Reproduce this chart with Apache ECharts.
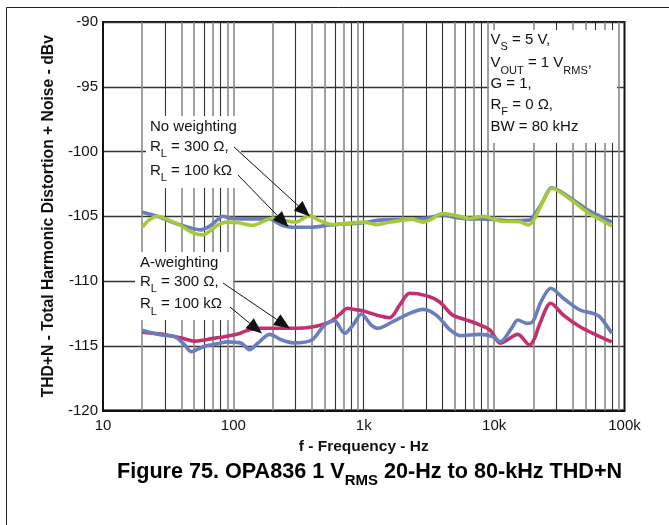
<!DOCTYPE html>
<html><head><meta charset="utf-8">
<script src="https://cdn.jsdelivr.net/npm/echarts@6/dist/echarts.min.js"></script>
<style>html,body{margin:0;padding:0;background:#fff}#c{width:669px;height:525px}</style>
</head><body><div id="c"></div>
<script>
const FONT = '"Liberation Sans", Arial, Helvetica, sans-serif';

// ---- axis / tick data ----
const xTickLabels = ['10', '100', '1k', '10k', '100k'];
const yMin = -120, yMax = -90, yStep = 5;
const darkGridFreqs = [30, 60, 80, 300, 600, 800, 1000, 3000, 4000, 6000, 8000, 30000, 60000, 80000];
const grayGridFreqs = [20, 40, 50, 70, 90, 100, 200, 400, 500, 700, 900, 2000, 5000, 7000, 9000, 10000, 20000, 40000, 50000, 70000, 90000];

// ---- series data (frequency Hz, THD+N dBv) ----
const noWtgBlueFreq = [20, 26, 35, 45, 56, 65, 75, 83, 95, 115, 150, 190, 230, 280, 400, 530, 700, 1000, 1300, 2000, 3000, 4000, 5000, 6500, 8000, 10000, 13000, 18500, 20500, 23500, 27500, 30000, 40000, 54000, 65000, 80000];
const noWtgBlue = [-104.7, -105.0, -105.5, -105.85, -106.05, -105.8, -105.3, -105.0, -105.15, -105.2, -105.2, -105.2, -105.65, -105.85, -105.85, -105.7, -105.6, -105.5, -105.3, -105.25, -105.15, -104.9, -105.1, -105.2, -105.2, -105.25, -105.35, -105.3, -104.85, -103.9, -102.8, -102.9, -103.7, -104.6, -105.0, -105.45];

const noWtgGreenFreq = [20, 22.5, 26, 32, 40, 48, 58, 65, 75, 90, 110, 140, 200, 300, 385, 450, 580, 750, 1000, 1250, 1600, 2000, 2300, 2850, 3200, 4000, 5100, 6500, 8300, 9800, 11600, 15700, 18300, 20500, 23600, 27600, 30200, 40400, 53800, 65000, 80000];
const noWtgGreen = [-105.85, -105.3, -105.0, -105.3, -105.75, -106.25, -106.45, -106.2, -105.7, -105.45, -105.5, -105.7, -105.15, -105.45, -104.95, -105.3, -105.65, -105.55, -105.45, -105.65, -105.45, -105.3, -105.2, -105.45, -105.3, -104.8, -104.95, -105.15, -105.0, -105.2, -105.4, -105.42, -105.68, -105.15, -103.9, -102.85, -102.95, -103.85, -104.8, -105.25, -105.75];

const aWtgMagentaFreq = [20, 25, 30, 40, 50, 60, 68, 85, 108, 125, 150, 200, 300, 400, 550, 650, 750, 850, 980, 1250, 1580, 1890, 2250, 3000, 3800, 4800, 6100, 7800, 9300, 11200, 15200, 18700, 20500, 22200, 27200, 34000, 45500, 61000, 80000];
const aWtgMagenta = [-113.95, -114.05, -114.15, -114.4, -114.65, -114.55, -114.45, -114.3, -114.1, -113.85, -113.65, -113.65, -113.65, -113.55, -113.15, -112.6, -112.1, -112.2, -112.3, -112.63, -112.83, -111.85, -110.95, -111.13, -111.6, -112.63, -113.0, -113.4, -113.8, -114.8, -114.12, -114.94, -114.4, -113.4, -111.72, -112.63, -113.53, -114.17, -114.7];

const aWtgBlueFreq = [20, 28, 35.5, 42, 47.6, 55, 62, 75, 90, 115, 133, 154, 190, 235, 290, 400, 500, 594, 713, 827, 960, 1140, 1290, 1670, 2250, 2850, 3600, 4600, 5500, 7800, 9800, 11200, 13500, 15200, 17800, 19800, 22900, 27200, 34000, 45500, 57400, 64600, 80000];
const aWtgBlue = [-113.8, -114.17, -114.3, -114.9, -115.46, -115.2, -115.0, -114.85, -114.7, -114.81, -115.3, -114.8, -114.12, -114.56, -114.78, -114.56, -113.4, -113.06, -114.04, -113.4, -112.55, -113.4, -113.65, -113.14, -112.5, -112.19, -112.63, -113.78, -114.22, -114.12, -114.3, -114.69, -113.7, -113.01, -113.27, -113.14, -111.6, -110.56, -111.33, -112.24, -112.5, -112.76, -114.04];

const pairs = (fs, vs) => fs.map((f, i) => [f, vs[i]]);

const chart = echarts.init(document.getElementById('c'), null, {renderer: 'canvas'});

const rich = {
  n: {fontSize: 15, fontFamily: FONT, color: '#111', lineHeight: 26},
  s: {fontSize: 11, fontFamily: FONT, color: '#111', lineHeight: 12, verticalAlign: 'bottom'}
};
function txt(x, top, text) {
  return {type: 'text', x: x, y: top, z: 20, silent: true,
    style: {text: text, rich: rich, align: 'left', verticalAlign: 'top', font: '15px ' + FONT, fill: '#111'}};
}
function box(x, y, w, h) {
  return {type: 'rect', z: 15, silent: true, shape: {x: x, y: y, width: w, height: h}, style: {fill: '#fff', stroke: null}};
}
function arrow(x1, y1, x2, y2) {
  const L = 16, W = 6.5;
  const dx = x2 - x1, dy = y2 - y1, d = Math.hypot(dx, dy);
  const ux = dx / d, uy = dy / d;
  const bx = x2 - ux * L, by = y2 - uy * L;
  return [
    {type: 'line', z: 25, silent: true, shape: {x1: x1, y1: y1, x2: bx, y2: by}, style: {stroke: '#111', lineWidth: 1}},
    {type: 'polygon', z: 25, silent: true, shape: {points: [[x2, y2], [bx - uy * W, by + ux * W], [bx + uy * W, by - ux * W]]}, style: {fill: '#111'}}
  ];
}

const graphics = [
  {type: 'rect', z: 0, silent: true, shape: {x: 6.5, y: 7.5, width: 700, height: 600}, style: {fill: null, stroke: '#222', lineWidth: 1}},
  box(146, 116, 95, 72),
  box(135, 252, 98, 68),
  box(489, 30, 128, 113),
  txt(150, 113.4, '{n|No weighting}'),
  txt(150, 133.4, '{n|R}{s|L}{n| = 300 Ω,}'),
  txt(150, 157.4, '{n|R}{s|L}{n| = 100 kΩ}'),
  txt(140, 249.4, '{n|A-weighting}'),
  txt(140, 268.4, '{n|R}{s|L}{n| = 300 Ω,}'),
  txt(140, 291, '{n|R}{s|L}{n| = 100 kΩ}'),
  txt(490.5, 26.7, '{n|V}{s|S}{n| = 5 V,}'),
  txt(490.5, 50, '{n|V}{s|OUT}{n| = 1 V}{s|RMS}{n|,}'),
  txt(490.5, 70.7, '{n|G = 1,}'),
  txt(490.5, 91.7, '{n|R}{s|F}{n| = 0 Ω,}'),
  txt(490.5, 113.4, '{n|BW = 80 kHz}'),
  ...arrow(234, 147, 310, 216.5),
  ...arrow(238, 175, 288.5, 227),
  ...arrow(223, 283, 290, 328.5),
  ...arrow(230, 307, 262, 333.5),
  {type: 'text', x: 117, y: 456, z: 20, silent: true,
   style: {text: '{b|Figure 75. OPA836 1 V}{s|RMS}{b| 20-Hz to 80-kHz THD+N}', align: 'left', verticalAlign: 'top',
     rich: {b: {fontSize: 21.6, fontWeight: 'bold', fontFamily: FONT, color: '#111', lineHeight: 32},
            s: {fontSize: 15, fontWeight: 'bold', fontFamily: FONT, color: '#111', lineHeight: 17, verticalAlign: 'bottom'}}}}
];

const gridMarkSeries = (freqs, color, width) => ({
  type: 'line', data: [[10, -120]], showSymbol: false, silent: true, z: 1,
  lineStyle: {width: 0, opacity: 0},
  markLine: {silent: true, symbol: ['none', 'none'], label: {show: false}, animation: false,
    emphasis: {disabled: true},
    lineStyle: {color: color, width: width, type: 'solid', opacity: 1},
    data: freqs.map(f => ({xAxis: f}))}
});

const curve = (fs, vs, color) => ({
  type: 'line', data: pairs(fs, vs), smooth: 0.3, showSymbol: false, z: 5,
  lineStyle: {color: color, width: 3.6}, itemStyle: {color: color}
});

chart.setOption({
  backgroundColor: '#fff',
  animation: false,
  textStyle: {fontFamily: FONT},
  grid: {left: 103, right: 44.5, top: 22, bottom: 114.5, show: true, borderColor: '#111', borderWidth: 2, backgroundColor: 'transparent'},
  xAxis: {
    type: 'log', logBase: 10, min: 10, max: 100000,
    axisLine: {show: true, lineStyle: {color: '#111', width: 2}},
    axisTick: {show: false}, splitLine: {show: false},
    axisLabel: {fontSize: 15, color: '#111', fontFamily: FONT, margin: 8,
      formatter: v => xTickLabels[Math.round(Math.log10(v)) - 1] || ''},
    name: 'f - Frequency - Hz', nameLocation: 'middle', nameGap: 26,
    nameTextStyle: {fontSize: 15.5, fontWeight: 'bold', color: '#111', fontFamily: FONT}
  },
  yAxis: {
    type: 'value', min: yMin, max: yMax, interval: yStep,
    axisLine: {show: true, lineStyle: {color: '#111', width: 2}},
    axisTick: {show: false},
    splitLine: {show: true, lineStyle: {color: '#333', width: 1.3}},
    axisLabel: {fontSize: 15, color: '#111', fontFamily: FONT, margin: 5},
    name: 'THD+N - Total Harmonic Distortion + Noise - dBv', nameLocation: 'middle', nameGap: 40, nameRotate: 90,
    nameTextStyle: {fontSize: 15.7, fontWeight: 'bold', color: '#111', fontFamily: FONT}
  },
  series: [
    gridMarkSeries(grayGridFreqs, '#8a8a8a', 1.6),
    gridMarkSeries(darkGridFreqs, '#333', 1.1),
    curve(noWtgBlueFreq, noWtgBlue, '#6A7DBC'),
    curve(noWtgGreenFreq, noWtgGreen, '#A6C93A'),
    curve(aWtgMagentaFreq, aWtgMagenta, '#C2306F'),
    curve(aWtgBlueFreq, aWtgBlue, '#6A7DBC')
  ],
  graphic: graphics
});
</script></body></html>
